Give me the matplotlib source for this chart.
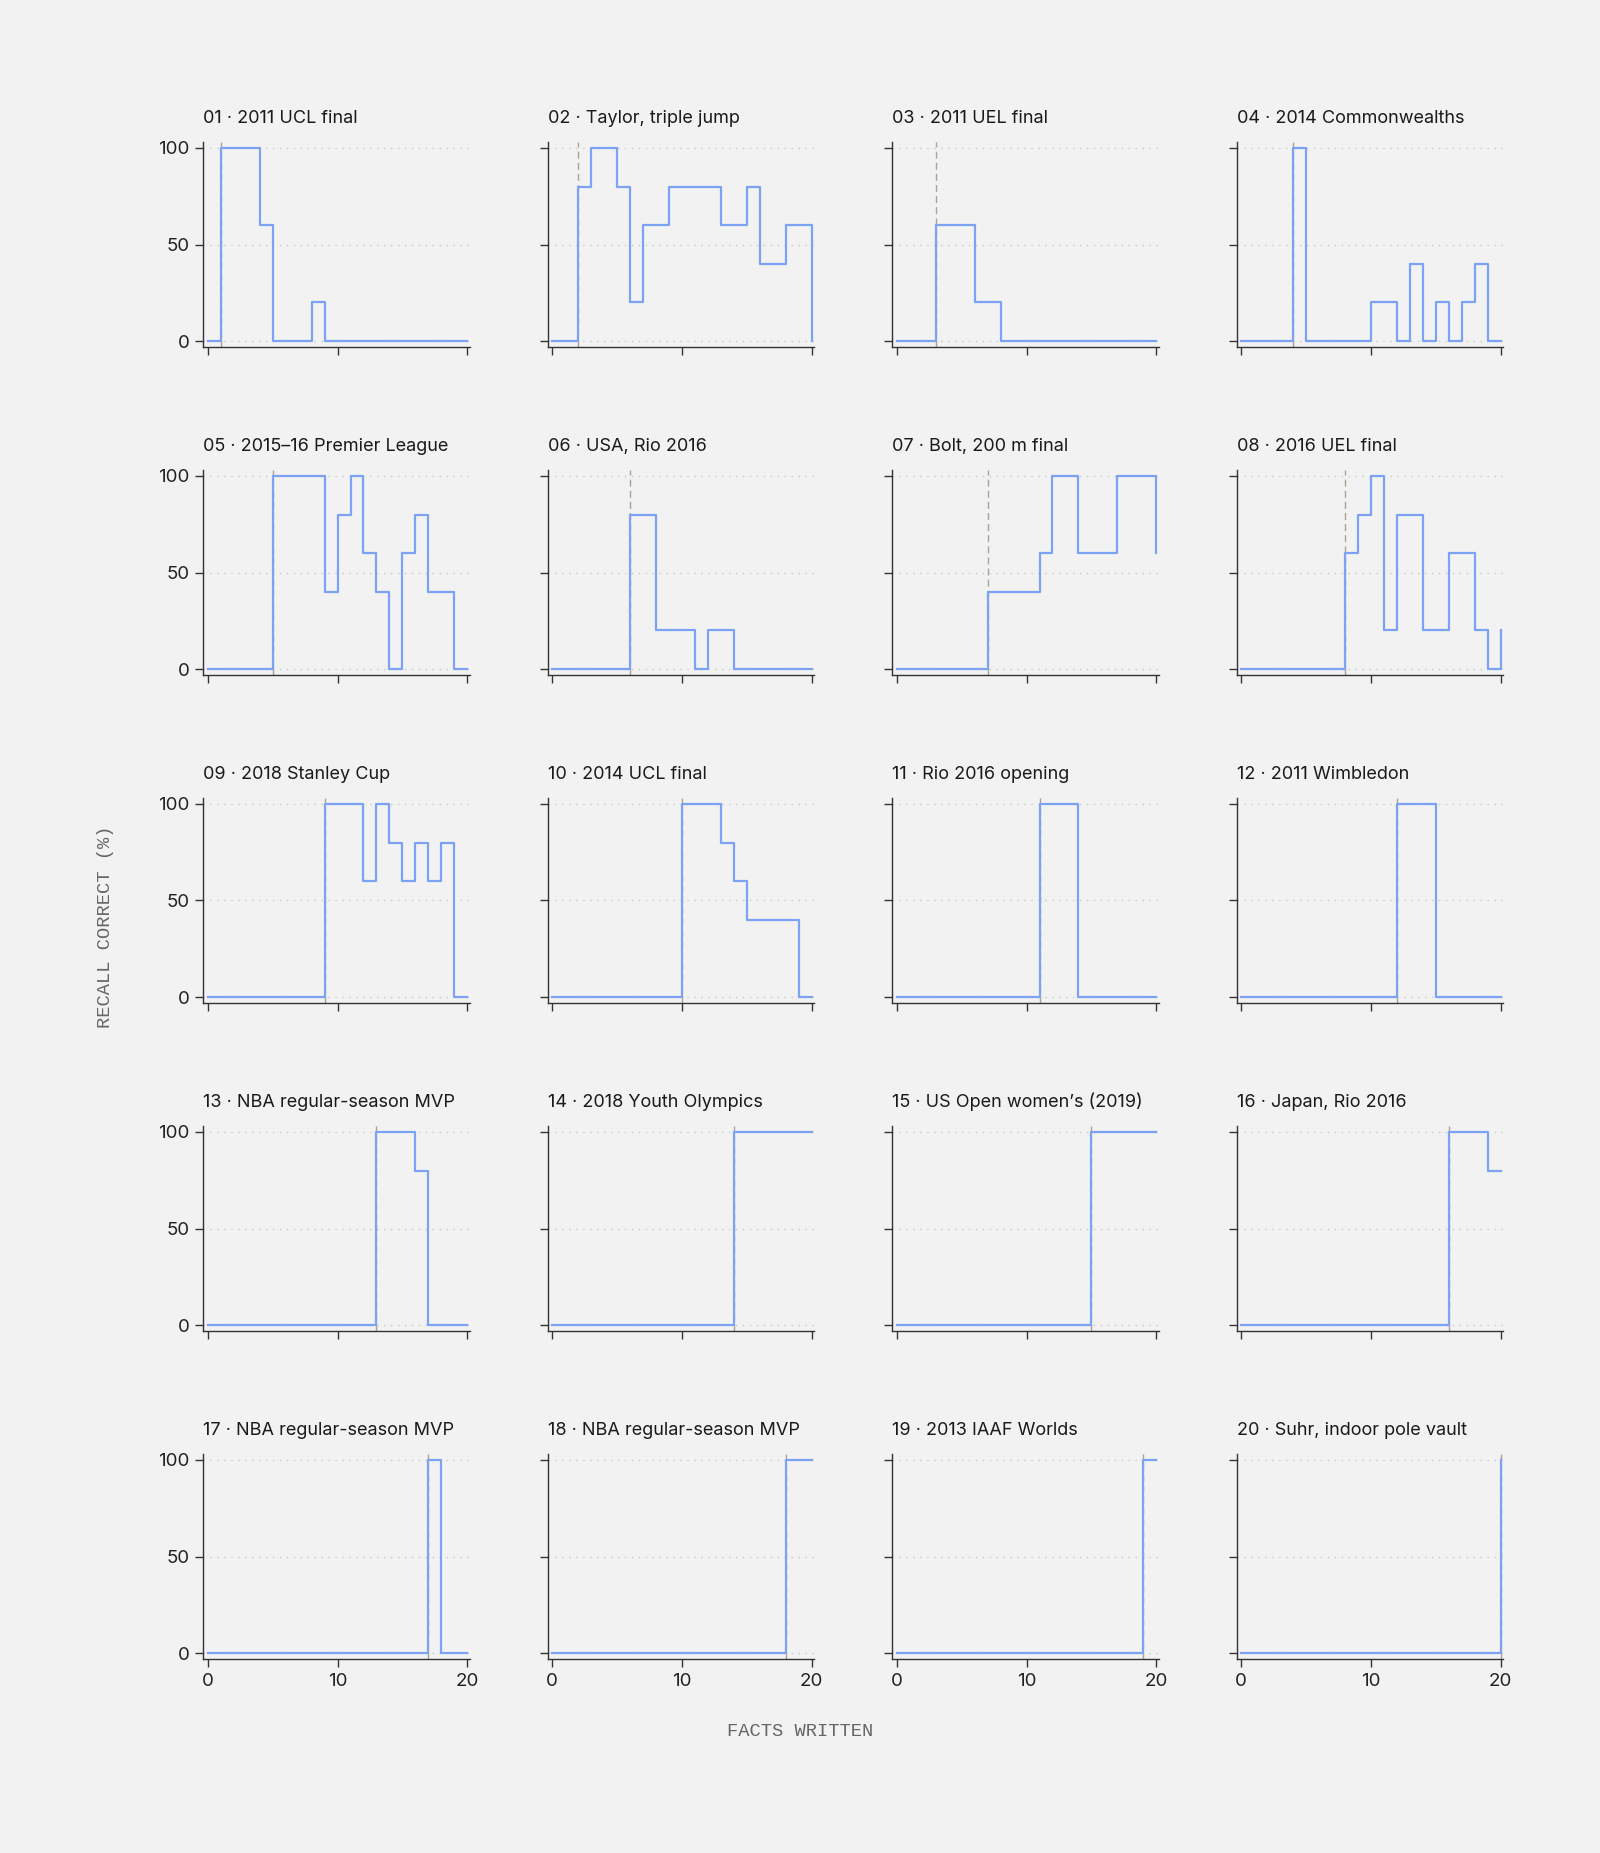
import numpy as np
import matplotlib.pyplot as plt

# recall correct (%) at facts written = 0..20, one list per prompt
titles = [
    "01 · 2011 UCL final", "02 · Taylor, triple jump", "03 · 2011 UEL final",
    "04 · 2014 Commonwealths", "05 · 2015–16 Premier League", "06 · USA, Rio 2016",
    "07 · Bolt, 200 m final", "08 · 2016 UEL final", "09 · 2018 Stanley Cup",
    "10 · 2014 UCL final", "11 · Rio 2016 opening", "12 · 2011 Wimbledon",
    "13 · NBA regular-season MVP", "14 · 2018 Youth Olympics",
    "15 · US Open women’s (2019)", "16 · Japan, Rio 2016",
    "17 · NBA regular-season MVP", "18 · NBA regular-season MVP",
    "19 · 2013 IAAF Worlds", "20 · Suhr, indoor pole vault",
]

r01 = [0, 100, 100, 100, 60, 0, 0, 0, 20, 0, 0, 0, 0, 0, 0, 0, 0, 0, 0, 0, 0]
r02 = [0, 0, 80, 100, 100, 80, 20, 60, 60, 80, 80, 80, 80, 60, 60, 80, 40, 40, 60, 60, 0]
r03 = [0, 0, 0, 60, 60, 60, 20, 20, 0, 0, 0, 0, 0, 0, 0, 0, 0, 0, 0, 0, 0]
r04 = [0, 0, 0, 0, 100, 0, 0, 0, 0, 0, 20, 20, 0, 40, 0, 20, 0, 20, 40, 0, 0]
r05 = [0, 0, 0, 0, 0, 100, 100, 100, 100, 40, 80, 100, 60, 40, 0, 60, 80, 40, 40, 0, 0]
r06 = [0, 0, 0, 0, 0, 0, 80, 80, 20, 20, 20, 0, 20, 20, 0, 0, 0, 0, 0, 0, 0]
r07 = [0, 0, 0, 0, 0, 0, 0, 40, 40, 40, 40, 60, 100, 100, 60, 60, 60, 100, 100, 100, 60]
r08 = [0, 0, 0, 0, 0, 0, 0, 0, 60, 80, 100, 20, 80, 80, 20, 20, 60, 60, 20, 0, 20]
r09 = [0, 0, 0, 0, 0, 0, 0, 0, 0, 100, 100, 100, 60, 100, 80, 60, 80, 60, 80, 0, 0]
r10 = [0, 0, 0, 0, 0, 0, 0, 0, 0, 0, 100, 100, 100, 80, 60, 40, 40, 40, 40, 0, 0]
r11 = [0, 0, 0, 0, 0, 0, 0, 0, 0, 0, 0, 100, 100, 100, 0, 0, 0, 0, 0, 0, 0]
r12 = [0, 0, 0, 0, 0, 0, 0, 0, 0, 0, 0, 0, 100, 100, 100, 0, 0, 0, 0, 0, 0]
r13 = [0, 0, 0, 0, 0, 0, 0, 0, 0, 0, 0, 0, 0, 100, 100, 100, 80, 0, 0, 0, 0]
r14 = [0, 0, 0, 0, 0, 0, 0, 0, 0, 0, 0, 0, 0, 0, 100, 100, 100, 100, 100, 100, 100]
r15 = [0, 0, 0, 0, 0, 0, 0, 0, 0, 0, 0, 0, 0, 0, 0, 100, 100, 100, 100, 100, 100]
r16 = [0, 0, 0, 0, 0, 0, 0, 0, 0, 0, 0, 0, 0, 0, 0, 0, 100, 100, 100, 80, 80]
r17 = [0, 0, 0, 0, 0, 0, 0, 0, 0, 0, 0, 0, 0, 0, 0, 0, 0, 100, 0, 0, 0]
r18 = [0, 0, 0, 0, 0, 0, 0, 0, 0, 0, 0, 0, 0, 0, 0, 0, 0, 0, 100, 100, 100]
r19 = [0, 0, 0, 0, 0, 0, 0, 0, 0, 0, 0, 0, 0, 0, 0, 0, 0, 0, 0, 100, 100]
r20 = [0, 0, 0, 0, 0, 0, 0, 0, 0, 0, 0, 0, 0, 0, 0, 0, 0, 0, 0, 0, 100]

series = [r01, r02, r03, r04, r05, r06, r07, r08, r09, r10,
          r11, r12, r13, r14, r15, r16, r17, r18, r19, r20]
marker_x = list(range(1, 21))  # dashed reference line per panel
facts = np.arange(21)

BG = "#f2f2f2"
LINE = "#7ba2f4"
plt.rcParams['font.family'] = ['Inter', 'DejaVu Sans']

W, H = 1600, 1853
fig = plt.figure(figsize=(W / 100, H / 100), dpi=100, facecolor=BG)

for i, vals in enumerate(series):
    r, c = divmod(i, 4)
    left = (203.2 + 344.5 * c) / W
    bottom = 1 - (346.8 + 328 * r) / H
    ax = fig.add_axes([left, bottom, 266.7 / W, 204.6 / H])
    ax.set_facecolor(BG)
    ax.set_xlim(-0.35, 20.2)
    ax.set_ylim(-3, 103)
    for yv in (0, 50, 100):
        ax.axhline(yv, color="#c8c8c8", lw=1, ls=(0, (1, 4)), zorder=1)
    ax.axvline(marker_x[i], color="#aaa296", lw=1, ls=(0, (5, 3)), zorder=2)
    ax.step(facts, vals, where="post", color=LINE, lw=1.6, zorder=3)

    for s in ("top", "right"):
        ax.spines[s].set_visible(False)
    for s in ("left", "bottom"):
        ax.spines[s].set_color("#333333")
        ax.spines[s].set_linewidth(1)
    ax.set_xticks([0, 10, 20])
    ax.set_yticks([0, 50, 100])
    ax.tick_params(direction="out", length=6, width=1, color="#333333",
                   labelsize=13.5, labelcolor="#222222", pad=4)
    if c != 0:
        ax.set_yticklabels([])
    if r != 4:
        ax.set_xticklabels([])
    ax.set_title(titles[i], loc="left", fontsize=13, color="#1a1a1a", pad=14, x=0.0)

fig.text(106 / W, 1 - 927 / H, "RECALL CORRECT (%)", rotation=90, ha="center", va="center",
         family="Liberation Mono", fontsize=13.5, color="#666666")
fig.text(800 / W, 1 - 1731 / H, "FACTS WRITTEN", ha="center", va="center",
         family="Liberation Mono", fontsize=13.5, color="#666666")

fig.savefig("out.png", dpi=100, facecolor=BG)
